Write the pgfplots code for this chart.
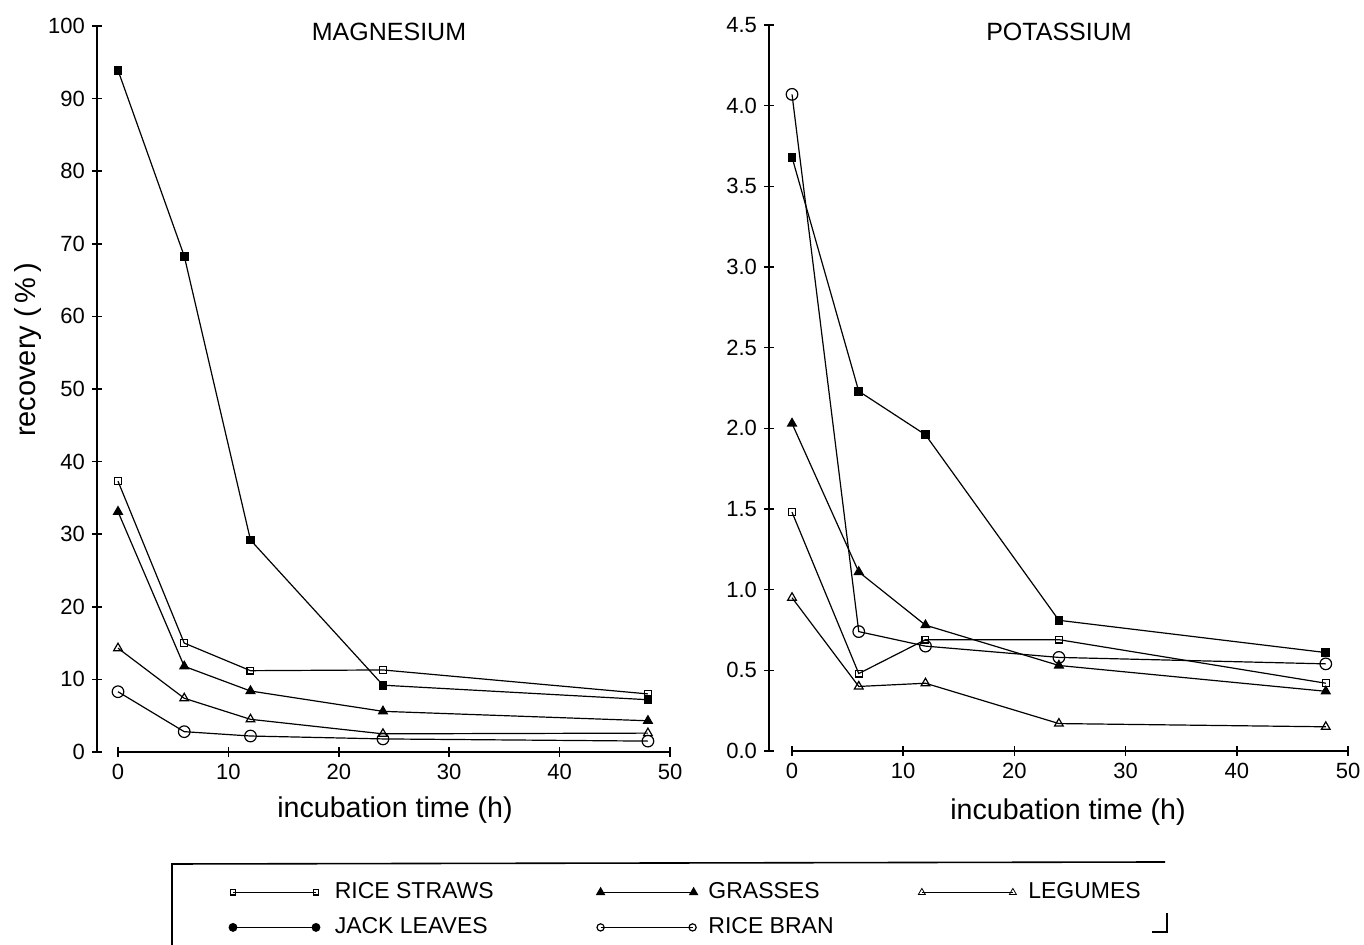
\documentclass[border=0pt]{standalone}
\usepackage{fontspec}
\setmainfont{Liberation Sans}
\usepackage{pgfplots}
\pgfplotsset{compat=1.18}
\begin{document}
\begin{tikzpicture}
\pgfplotsset{
  myaxis/.style={
    scale only axis,
    axis lines=left,
    axis line style={draw=none},
    tick align=center,
    major tick length=5pt,
    tick style={black, line width=0.8pt},
    clip=false,
    /pgf/number format/assume math mode=true,
    tick label style={font=\fontsize{11}{13}\selectfont},
    xtick={0,10,20,30,40,50},
    xmax=50,
    every axis plot/.append style={black, line width=0.6pt},
  },
  rs/.style={mark=square, mark size=1.7pt, mark options={fill=white}},
  jl/.style={mark=square*, mark size=1.9pt},
  gr/.style={mark=triangle*, mark size=2.5pt},
  lg/.style={mark=triangle, mark size=2.5pt, mark options={fill=white}},
  rb/.style={mark=o, mark size=2.9pt, mark options={fill=white}},
  limg/.style={legend image code/.code={\draw[##1] plot coordinates {(0pt,0pt) (#1,0pt)};}},
}
% ---------------- MAGNESIUM ----------------
\begin{axis}[myaxis,
  at={(48.5pt,96.5pt)}, anchor=south west,
  width=286.5pt, height=363pt,
  xmin=-1.902, ymin=0, ymax=100,
  ytick={0,10,...,100},
  legend columns=3,
  legend style={draw=none, fill=none, inner sep=0pt,
    at={(0.2300,-0.1777)}, anchor=north west,
    nodes={inner sep=0pt, text height=8.5pt, text depth=2.5pt, font=\fontsize{11.5}{13}\selectfont},
    column sep=0pt, row sep=6.5pt},
]
\addlegendimage{black, line width=0.6pt, mark=square, mark size=1.3pt, mark options={fill=white}, limg=41.5pt}
\addlegendentry{\hspace*{7.5pt}\makebox[131pt][l]{RICE STRAWS}}
\addlegendimage{black, line width=0.6pt, mark=triangle*, mark size=2.2pt, limg=46.5pt}
\addlegendentry{\hspace*{5.5pt}\makebox[105pt][l]{GRASSES}}
\addlegendimage{black, line width=0.4pt, mark=triangle, mark size=2pt, mark options={fill=white}, limg=45.5pt}
\addlegendentry{\hspace*{6pt}LEGUMES}
\addlegendimage{black, line width=0.6pt, mark=*, mark size=1.9pt, limg=41.5pt}
\addlegendentry{\hspace*{7.5pt}\makebox[131pt][l]{JACK LEAVES}}
\addlegendimage{black, line width=0.6pt, mark=o, mark size=1.8pt, mark options={fill=white}, limg=46pt}
\addlegendentry{\hspace*{5.5pt}\makebox[105pt][l]{RICE BRAN}}

\draw[line width=0.8pt] (rel axis cs:0,0) -- (rel axis cs:0,1);
\draw[line width=0.8pt] (axis cs:0,0) -- (axis cs:50,0);

\addplot[forget plot, jl] coordinates {(0,93.9) (6,68.3) (12,29.2) (24,9.2) (48,7.2)};
\addplot[forget plot, rs] coordinates {(0,37.3) (6,15.0) (12,11.2) (24,11.3) (48,8.0)};
\addplot[forget plot, gr] coordinates {(0,33.1) (6,11.8) (12,8.4) (24,5.6) (48,4.3)};
\addplot[forget plot, lg] coordinates {(0,14.3) (6,7.4) (12,4.5) (24,2.5) (48,2.6)};
\addplot[forget plot, rb] coordinates {(0,8.3) (6,2.8) (12,2.2) (24,1.8) (48,1.5)};
\end{axis}
% ---------------- POTASSIUM ----------------
\begin{axis}[myaxis,
  at={(384.5pt,97pt)}, anchor=south west,
  width=289.5pt, height=363pt,
  xmin=-2.07, ymin=0, ymax=4.5,
  ytick={0,0.5,...,4.5},
  yticklabel style={/pgf/number format/.cd, fixed, fixed zerofill, precision=1},
]
\draw[line width=0.8pt] (rel axis cs:0,0) -- (rel axis cs:0,1);
\draw[line width=0.8pt] (axis cs:0,0) -- (axis cs:50,0);

\addplot[forget plot, rb] coordinates {(0,4.07) (6,0.74) (12,0.65) (24,0.58) (48,0.54)};
\addplot[forget plot, jl] coordinates {(0,3.68) (6,2.23) (12,1.96) (24,0.81) (48,0.61)};
\addplot[forget plot, gr] coordinates {(0,2.03) (6,1.11) (12,0.78) (24,0.53) (48,0.37)};
\addplot[forget plot, rs] coordinates {(0,1.48) (6,0.48) (12,0.69) (24,0.69) (48,0.42)};
\addplot[forget plot, lg] coordinates {(0,0.95) (6,0.40) (12,0.42) (24,0.17) (48,0.15)};
\end{axis}
% ---------------- labels ----------------
\node[font=\fontsize{12.5}{15}\selectfont] at (194.5pt,456.5pt) {MAGNESIUM};
\node[font=\fontsize{12.5}{15}\selectfont] at (529.5pt,456.5pt) {POTASSIUM};
\node[font=\fontsize{14.3}{16}\selectfont] at (197.5pt,67.5pt) {incubation time (h)};
\node[font=\fontsize{14.3}{16}\selectfont] at (534pt,66.5pt) {incubation time (h)};
\node[font=\fontsize{14.5}{16}\selectfont, rotate=90] at (14pt,297.5pt) {recovery (\,\%\,)};
% legend frame pieces
\draw[line width=0.8pt] (86pt,0pt) -- (86pt,40.5pt) -- (582.5pt,41.5pt);
\draw[line width=0.6pt] (576pt,6.5pt) -- (583.5pt,6.5pt) -- (583.5pt,16pt);
\pgfresetboundingbox
\useasboundingbox (0pt,0pt) rectangle (682pt,472.5pt);
\end{tikzpicture}
\end{document}
